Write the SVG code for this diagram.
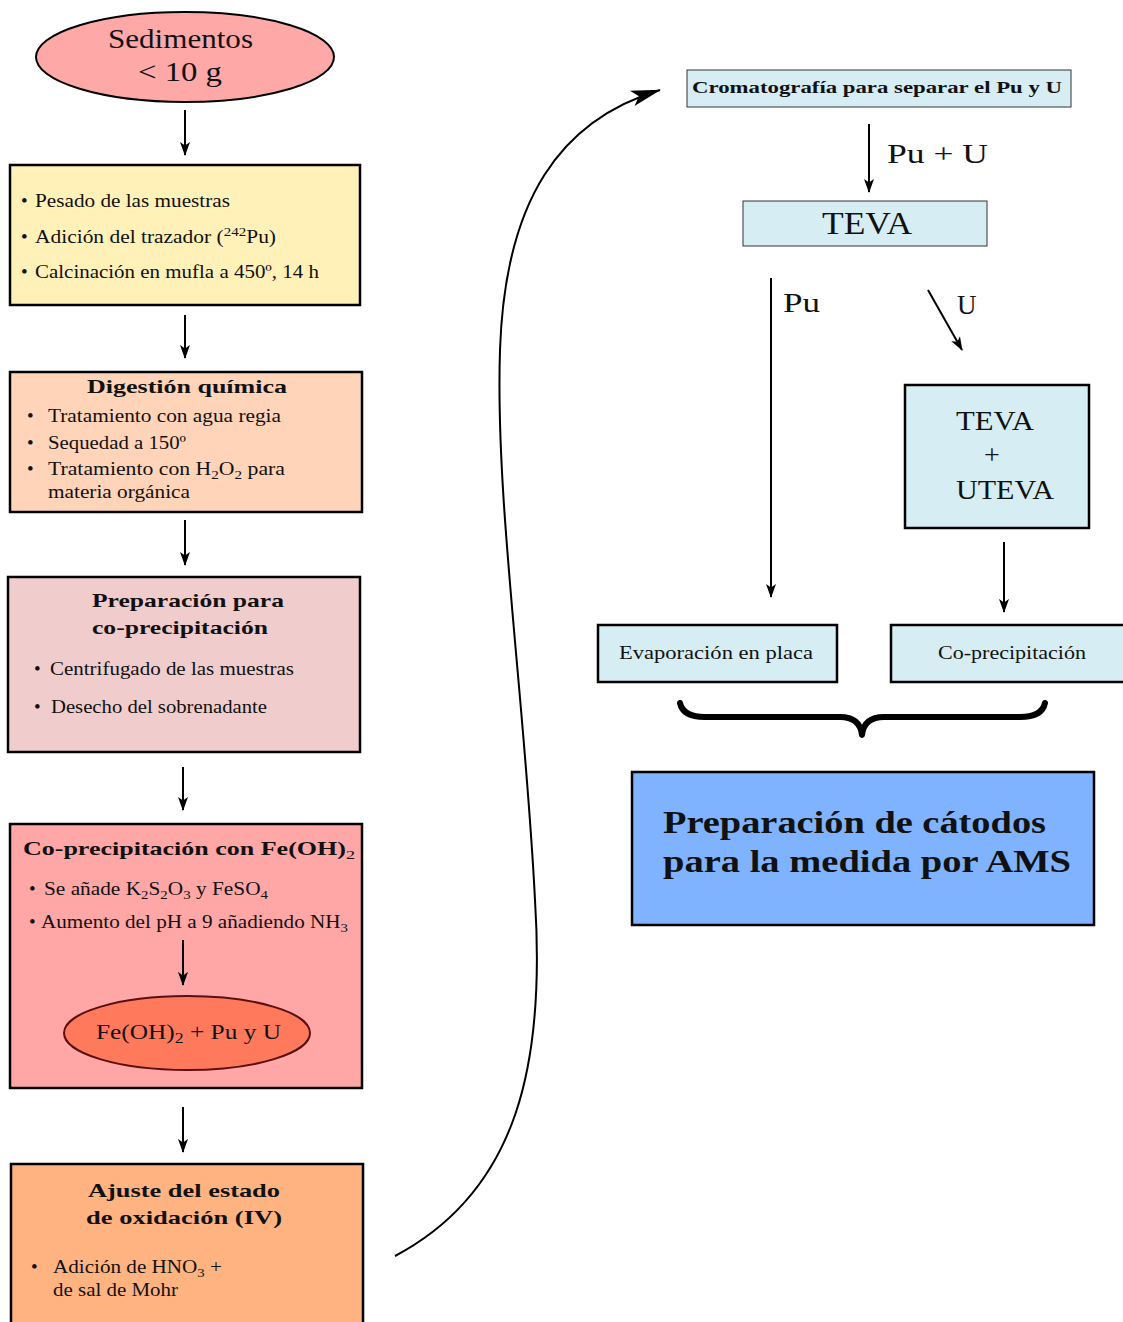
<svg xmlns="http://www.w3.org/2000/svg" width="1123" height="1322" viewBox="0 0 1123 1322">
<defs>
<marker id="ah" viewBox="0 0 14 10" refX="13" refY="5" markerWidth="14" markerHeight="10" markerUnits="userSpaceOnUse" orient="auto">
<path d="M0,0 L14,5 L0,10 L3.5,5 z" fill="#000"/>
</marker>
<marker id="ah2" viewBox="0 0 30 16" refX="29" refY="8" markerWidth="30" markerHeight="16" markerUnits="userSpaceOnUse" orient="auto">
<path d="M0,0 L30,8 L0,16 L7,8 z" fill="#000"/>
</marker>
<style>
text{font-family:"Liberation Serif","Times New Roman",serif;fill:#111}
.t{font-size:19px}
.b{font-weight:bold}
.box{stroke:#000;stroke-width:2.5}
.thin{stroke:#333;stroke-width:1}
.c{stroke:#000;stroke-width:2;fill:none;marker-end:url(#ah)}
.s{font-size:70%}
</style>
</defs>
<g id="sedimentos">
<ellipse cx="185" cy="57" rx="149" ry="45" fill="#ffa8a8" stroke="#000" stroke-width="2"/>
<text x="108" y="48" textLength="145" lengthAdjust="spacingAndGlyphs" style="font-size:28px">Sedimentos</text>
<text x="138" y="81" textLength="84" lengthAdjust="spacingAndGlyphs" style="font-size:28px">&lt; 10 g</text>
</g>
<g id="pesado">
<rect x="10" y="165" width="350" height="140" fill="#fff1b8" class="box"/>
<text class="t" x="21" y="207">•</text><text class="t" x="35" y="207" textLength="195" lengthAdjust="spacingAndGlyphs">Pesado de las muestras</text>
<text class="t" x="21" y="243">•</text><text class="t" x="35" y="243" textLength="241" lengthAdjust="spacingAndGlyphs">Adición del trazador (<tspan class="s" dy="-7">242</tspan><tspan dy="7">Pu)</tspan></text>
<text class="t" x="21" y="278">•</text><text class="t" x="35" y="278" textLength="284" lengthAdjust="spacingAndGlyphs">Calcinación en mufla a 450º, 14 h</text>
</g>
<g id="digestion">
<rect x="10" y="372" width="352" height="140" fill="#ffd4b8" class="box"/>
<text class="t b" x="87" y="393" textLength="200" lengthAdjust="spacingAndGlyphs">Digestión química</text>
<text class="t" x="27" y="422">•</text><text class="t" x="48" y="422" textLength="233" lengthAdjust="spacingAndGlyphs">Tratamiento con agua regia</text>
<text class="t" x="27" y="449">•</text><text class="t" x="48" y="449" textLength="138" lengthAdjust="spacingAndGlyphs">Sequedad a 150º</text>
<text class="t" x="27" y="475">•</text><text class="t" x="48" y="475" textLength="237" lengthAdjust="spacingAndGlyphs">Tratamiento con H<tspan class="s" dy="4">2</tspan><tspan dy="-4">O</tspan><tspan class="s" dy="4">2</tspan><tspan dy="-4"> para</tspan></text>
<text class="t" x="48" y="498" textLength="142" lengthAdjust="spacingAndGlyphs">materia orgánica</text>
</g>
<g id="preparacion">
<rect x="8" y="577" width="352" height="175" fill="#f0cccc" class="box"/>
<text class="t b" x="92" y="607" textLength="192" lengthAdjust="spacingAndGlyphs">Preparación para</text>
<text class="t b" x="92" y="634" textLength="176" lengthAdjust="spacingAndGlyphs">co-precipitación</text>
<text class="t" x="34" y="675">•</text><text class="t" x="50" y="675" textLength="244" lengthAdjust="spacingAndGlyphs">Centrifugado de las muestras</text>
<text class="t" x="34" y="713">•</text><text class="t" x="51" y="713" textLength="216" lengthAdjust="spacingAndGlyphs">Desecho del sobrenadante</text>
</g>
<g id="coprecipitacion">
<rect x="10" y="824" width="352" height="264" fill="#ffa6a6" class="box"/>
<text class="t b" x="23" y="855" textLength="332" lengthAdjust="spacingAndGlyphs">Co-precipitación con Fe(OH)<tspan class="s" dy="4" style="font-weight:normal">2</tspan></text>
<text class="t" x="29" y="895">•</text><text class="t" x="44" y="895" textLength="224" lengthAdjust="spacingAndGlyphs">Se añade K<tspan class="s" dy="4">2</tspan><tspan dy="-4">S</tspan><tspan class="s" dy="4">2</tspan><tspan dy="-4">O</tspan><tspan class="s" dy="4">3</tspan><tspan dy="-4"> y FeSO</tspan><tspan class="s" dy="4">4</tspan></text>
<text class="t" x="29" y="928">•</text><text class="t" x="41" y="928" textLength="307" lengthAdjust="spacingAndGlyphs">Aumento del pH a 9 añadiendo NH<tspan class="s" dy="4">3</tspan></text>
<ellipse cx="187" cy="1033" rx="123" ry="37" fill="#ff7a5c" stroke="#5a1010" stroke-width="2"/>
<text class="t" x="96" y="1039" textLength="185" lengthAdjust="spacingAndGlyphs" style="font-size:20px">Fe(OH)<tspan class="s" dy="4">2</tspan><tspan dy="-4"> + Pu y U</tspan></text>
</g>
<g id="ajuste">
<rect x="11" y="1164" width="352" height="170" fill="#ffb380" class="box"/>
<text class="t b" x="88" y="1197" textLength="192" lengthAdjust="spacingAndGlyphs">Ajuste del estado</text>
<text class="t b" x="86" y="1224" textLength="196" lengthAdjust="spacingAndGlyphs">de oxidación (IV)</text>
<text class="t" x="31" y="1273">•</text><text class="t" x="53" y="1273" textLength="169" lengthAdjust="spacingAndGlyphs">Adición de HNO<tspan class="s" dy="4">3</tspan><tspan dy="-4"> +</tspan></text>
<text class="t" x="53" y="1296" textLength="125" lengthAdjust="spacingAndGlyphs">de sal de Mohr</text>
</g>
<g id="cromatografia">
<rect x="687" y="70" width="384" height="37" fill="#d6edf3" class="thin"/>
<text class="b" x="692" y="93" textLength="370" lengthAdjust="spacingAndGlyphs" style="font-size:16.5px">Cromatografía para separar el Pu y U</text>
</g>
<g id="teva">
<rect x="743" y="201" width="244" height="45" fill="#d6edf3" class="thin"/>
<text x="822" y="234" textLength="90" lengthAdjust="spacingAndGlyphs" style="font-size:32px">TEVA</text>
</g>
<g id="teva-uteva">
<rect x="905" y="385" width="184" height="143" fill="#d6edf3" class="box"/>
<text x="956" y="430" textLength="78" lengthAdjust="spacingAndGlyphs" style="font-size:28px">TEVA</text>
<text x="992" y="464" text-anchor="middle" style="font-size:28px">+</text>
<text x="956" y="499" textLength="98" lengthAdjust="spacingAndGlyphs" style="font-size:28px">UTEVA</text>
</g>
<g id="evaporacion">
<rect x="598" y="625" width="239" height="57" fill="#d6edf3" class="box"/>
<text class="t" x="619" y="659" textLength="194" lengthAdjust="spacingAndGlyphs">Evaporación en placa</text>
</g>
<g id="co-precip">
<rect x="891" y="625" width="240" height="57" fill="#d6edf3" class="box"/>
<text class="t" x="938" y="659" textLength="148" lengthAdjust="spacingAndGlyphs">Co-precipitación</text>
</g>
<g id="catodos">
<rect x="632" y="772" width="462" height="153" fill="#80b3ff" class="box"/>
<text class="b" x="663" y="833" textLength="383" lengthAdjust="spacingAndGlyphs" style="font-size:32px">Preparación de cátodos</text>
<text class="b" x="663" y="872" textLength="408" lengthAdjust="spacingAndGlyphs" style="font-size:32px">para la medida por AMS</text>
</g>
<g id="connectors">
<line class="c" x1="185" y1="110" x2="185" y2="155"/>
<line class="c" x1="185" y1="315" x2="185" y2="358"/>
<line class="c" x1="185" y1="520" x2="185" y2="565"/>
<line class="c" x1="183" y1="767" x2="183" y2="810"/>
<line class="c" x1="183" y1="940" x2="183" y2="985"/>
<line class="c" x1="183" y1="1107" x2="183" y2="1152"/>
<path d="M395,1256 C520,1190 545,1060 535,900 C525,700 495,500 500,350 C505,200 560,120 660,90" stroke="#000" stroke-width="2" fill="none" marker-end="url(#ah2)"/>
<line class="c" x1="869" y1="124" x2="869" y2="192"/>
<line class="c" x1="771" y1="278" x2="771" y2="597"/>
<line class="c" x1="928" y1="290" x2="962" y2="350"/>
<line class="c" x1="1004" y1="542" x2="1004" y2="612"/>
<path d="M680,703 Q683,717 705,717 L840,717 Q860,717 862,735 Q864,717 884,717 L1020,717 Q1042,717 1045,703" stroke="#000" stroke-width="6" fill="none" stroke-linecap="round" stroke-linejoin="round"/>
<text x="887" y="163" textLength="101" lengthAdjust="spacingAndGlyphs" style="font-size:27px">Pu + U</text>
<text x="783" y="312" textLength="37" lengthAdjust="spacingAndGlyphs" style="font-size:27px">Pu</text>
<text x="957" y="314" style="font-size:27px">U</text>
</g>
</svg>
